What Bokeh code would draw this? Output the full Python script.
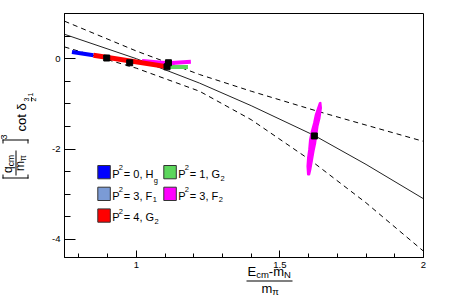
from math import pi
from bokeh.plotting import figure
from bokeh.models import Label, BoxAnnotation, FixedTicker, Range1d
from bokeh.embed import file_html
from bokeh.resources import INLINE

# ---------------- data ----------------
fit_x = [0.75, 1.0, 1.22, 1.4, 1.62, 1.8, 2.0]
fit_y = [0.54, 0.0, -0.54, -1.04, -1.70, -2.34, -3.10]

upper_x = [0.75, 1.0, 1.22, 1.4, 1.64, 1.8, 2.0]
upper_y = [0.83, 0.17, -0.35, -0.72, -1.18, -1.47, -1.83]

lower_x = [0.75, 1.0, 1.22, 1.4, 1.607, 1.8, 2.0]
lower_y = [0.26, -0.21, -0.72, -1.35, -2.25, -3.19, -4.26]

blue_x = [0.776, 0.851]
blue_y = [0.148, 0.075]
red_x = [0.851, 1.10]
red_y = [0.075, -0.17]
magenta_x = [1.02, 1.11, 1.19]
magenta_y = [-0.05, -0.10, -0.07]
green_x = [1.095, 1.18]
green_y = [-0.185, -0.185]

cloud_x = [1.642, 1.644, 1.639, 1.632, 1.628, 1.624, 1.618, 1.613, 1.607, 1.603,
           1.597, 1.595, 1.597, 1.601, 1.604, 1.610, 1.618, 1.624, 1.632, 1.638]
cloud_y = [-0.967, -1.091, -1.312, -1.497, -1.681, -1.866, -2.050, -2.235, -2.456, -2.566,
           -2.566, -2.382, -2.197, -2.013, -1.792, -1.608, -1.423, -1.239, -1.091, -0.981]

pts_x = [0.897, 0.977, 1.112, 1.107, 1.62]
pts_y = [0.015, -0.09, -0.09, -0.18, -1.71]

leg_main = ["= 0, H", "= 1, G", "= 3, F", "= 3, F", "= 4, G"]
leg_sub = ["g", "2", "1", "2", "2"]
leg_color = ["#0000ff", "#5cd65c", "#7b9bd6", "#ff00ff", "#ff0000"]
leg_col = [0, 1, 0, 1, 0]
leg_row = [0, 0, 1, 1, 2]

x_major = [1, 1.5, 2]
x_minor = [0.8, 0.9, 1.1, 1.2, 1.3, 1.4, 1.6, 1.7, 1.8, 1.9]
y_major = [-4, -2, 0]
y_minor = [-4.0, -3.5, -3.0, -2.5, -2.0, -1.5, -1.0, -0.5, 0.0, 0.5, 1.0]

# ---------------- layout ----------------
X0, X1, Y0, Y1 = 0.75, 2.0, -4.4, 1.0          # visible data window
WIDTH, HEIGHT = 449, 304
FL, FT, FW, FH = 64, 13, 359, 244              # data window position in the page
FONT = "Liberation Sans"
ASC = 0.9                                      # ascent (em) used to place text tops

kx = (X1 - X0) / FW
ky = (Y1 - Y0) / FH
xr = Range1d(X0 - FL * kx, X1 + (WIDTH - FL - FW) * kx)
yr = Range1d(Y0 - (HEIGHT - FT - FH) * ky, Y1 + FT * ky)

W = {' ': 278, '=': 584, ',': 278, 'P': 667, 'H': 722, 'G': 778, 'F': 611,
     'E': 667, 'c': 500, 'm': 833, '-': 333, 'N': 722, 'q': 556, 'o': 556, 't': 278}

def tw(s, size):
    return sum(W.get(ch, 556) for ch in s) * size / 1000.0

p = figure(width=WIDTH, height=HEIGHT, x_range=xr, y_range=yr,
           output_backend="svg", toolbar_location=None,
           min_border=0, min_border_left=0, min_border_right=0,
           min_border_top=0, min_border_bottom=0)
p.title.visible = False
p.xgrid.visible = False
p.ygrid.visible = False
p.outline_line_color = None
p.background_fill_color = "white"
p.border_fill_color = "white"

p.xaxis.fixed_location = Y0
p.yaxis.fixed_location = X0
p.xaxis.bounds = (X0, X1)
p.yaxis.bounds = (Y0, Y1)
p.xaxis.ticker = FixedTicker(ticks=x_major, minor_ticks=x_minor)
p.yaxis.ticker = FixedTicker(ticks=y_major, minor_ticks=y_minor)
p.xaxis.major_label_overrides = {1: "1", 1.5: "1.5", 2: "2"}
p.yaxis.major_label_overrides = {-4: "-4", -2: "-2", 0: "0"}
for ax, mj, mn in ((p.xaxis, 7, 4), (p.yaxis, 11, 6)):
    ax.major_tick_in = mj
    ax.major_tick_out = 0
    ax.minor_tick_in = mn
    ax.minor_tick_out = 0
    ax.axis_line_color = "black"
    ax.major_tick_line_color = "black"
    ax.minor_tick_line_color = "black"
    ax.major_label_text_font = FONT
    ax.major_label_text_font_size = "9.5px"
    ax.major_label_text_color = "black"
    ax.major_label_standoff = 4

# frame of the data window
p.add_layout(BoxAnnotation(left=X0, right=X1, bottom=Y0, top=Y1, fill_alpha=0,
                           line_color="black", line_alpha=1, line_width=1))

# ---------------- glyphs ----------------
p.line(upper_x, upper_y, line_color="black", line_width=1, line_dash="5 4")
p.line(lower_x, lower_y, line_color="black", line_width=1, line_dash="5 4")
p.line(fit_x, fit_y, line_color="#222222", line_width=1)

p.line(magenta_x, magenta_y, line_color="#ff00ff", line_width=4)
p.line(green_x, green_y, line_color="#5cd65c", line_width=4)
p.line(blue_x, blue_y, line_color="#0000ff", line_width=4)
p.line(red_x, red_y, line_color="#ff0000", line_width=5)
p.patch(cloud_x, cloud_y, fill_color="#ff00ff", line_color="#ff00ff", line_width=1.5)
p.scatter(pts_x, pts_y, marker="square", size=6, fill_color="black", line_color="black")

# ---------------- helpers for text (page pixels -> screen units) ----------------
def sx(px):
    return px

def sy(py):
    return HEIGHT - py

def lab(px, py, text, size):
    """horizontal text, (px, py) = start of the baseline in page pixels"""
    p.add_layout(Label(x=sx(px), y=sy(py - ASC * size), x_units="screen", y_units="screen",
                       text=text, text_font=FONT, text_font_size=f"{size}px",
                       text_color="black", text_align="left", text_baseline="top"))

def vlab(px, py, text, size):
    """text rotated by 90 deg; px = baseline column, py = start of the text (bottom)"""
    p.add_layout(Label(x=sx(px - ASC * size), y=sy(py), x_units="screen", y_units="screen",
                       text=text, text_font=FONT, text_font_size=f"{size}px",
                       text_color="black", angle=pi / 2,
                       text_align="left", text_baseline="top"))

def box(px0, py0, px1, py1, fill, line=None):
    p.add_layout(BoxAnnotation(left=sx(px0), right=sx(px1), top=sy(py0), bottom=sy(py1),
                               left_units="screen", right_units="screen",
                               top_units="screen", bottom_units="screen",
                               fill_color=fill, fill_alpha=1,
                               line_color=line if line else fill, line_alpha=1,
                               line_width=1 if line else 0))

# ---------------- legend ----------------
for i in range(len(leg_main)):
    x0 = 97.3 + 66 * leg_col[i]
    y0 = 165 + 21.7 * leg_row[i]
    box(x0, y0, x0 + 12.5, y0 + 13.3, leg_color[i], "#333333")
    tx = x0 + 14.4
    base = y0 + 12.3
    lab(tx, base, "P", 11)
    lab(tx + 6.6, base - 5.6, "2", 7.5)
    lab(tx + 11.6, base, leg_main[i], 11)
    lab(tx + 11.6 + tw(leg_main[i], 11) + 0.4, base + 4.5, leg_sub[i], 7.5)

# ---------------- x axis title ----------------
M, S = 13, 9.5
xa = 247
lab(xa, 275.5, "E", M)
xa += tw("E", M)
lab(xa, 277.5, "cm", S)
xa += tw("cm", S)
lab(xa, 275.5, "-m", M)
xa += tw("-m", M)
lab(xa, 277.5, "N", S)
box(246, 280, 292, 281, "black")
lab(261, 292, "m", M)
lab(261 + tw("m", M), 294.5, "\u03c0", S)

# ---------------- y axis title (rotated) ----------------
box(2, 177, 28, 178, "black")
box(2, 174, 3, 178, "black")
box(27, 174, 28, 178, "black")
box(2, 139, 28, 140, "black")
box(2, 139, 3, 143, "black")
box(27, 139, 28, 143, "black")
vlab(11.5, 172.5, "q", 12)
vlab(13.5, 172.5 - tw("q", 12), "cm", 8.5)
box(15, 150, 16, 175, "black")
vlab(23, 170.5, "m", 12)
vlab(25, 170.5 - tw("m", 12), "\u03c0", 8.5)
vlab(8.5, 139, "3", 9)
vlab(25, 131, "cot \u03b4", 13)
vlab(29.5, 101, "3", 7)
box(30.5, 96.5, 31.3, 101, "black")
vlab(37, 101, "2", 7)
vlab(33.5, 96, "1", 7)

open("out.html", "w").write(file_html(p, INLINE))
